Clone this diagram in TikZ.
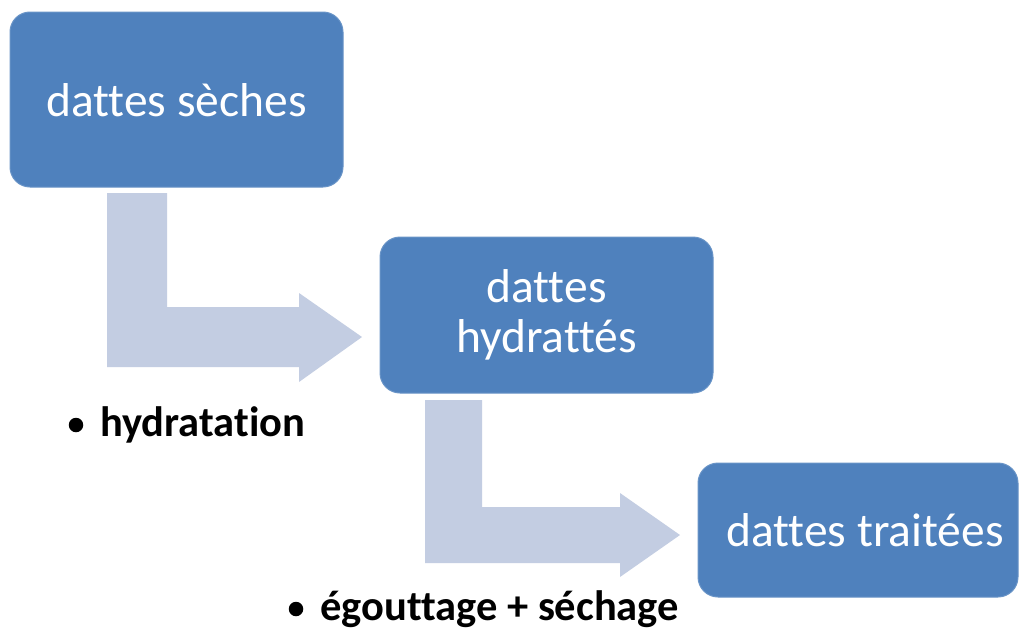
\documentclass[tikz,border=0pt]{standalone}
\usepackage{fontspec}
\setmainfont{Carlito}[Ligatures=NoCommon]
\definecolor{boxblue}{HTML}{4F81BD}
\definecolor{arrowblue}{HTML}{C3CDE2}
\begin{document}
\begin{tikzpicture}[x=1pt,y=-1pt,
  stepbox/.style={fill=boxblue,draw=boxblue!85!white,line width=1pt,rounded corners=20pt},
  boxtext/.style={text=white,align=center,inner sep=0pt,font=\fontsize{47.5}{50}\selectfont},
  bentarrow/.style={fill=arrowblue,draw=none},
  lbl/.style={anchor=west,inner sep=0pt,font=\fontsize{42.5}{48}\selectfont\bfseries},
  bul/.style={circle,fill=black,draw=none,inner sep=0pt,minimum size=14.5pt}]
\useasboundingbox (0,0) rectangle (1019,629);
\fill[white] (0,0) rectangle (1019,629);
% arrows
\fill[bentarrow] (107,193) -- (167,193) -- (167,307) -- (299,307) -- (299,293) -- (362,337) -- (299,382) -- (299,367) -- (107,367) -- cycle;
\fill[bentarrow] (425,400) -- (482,400) -- (482,507) -- (620,507) -- (620,493) -- (680,535) -- (620,577) -- (620,563) -- (425,563) -- cycle;
% boxes
\draw[stepbox] (10,12) rectangle (343,187);
\node[boxtext] (b1) at (176.5,100) {dattes sèches};
\draw[stepbox] (380,237) rectangle (713,393);
\node[boxtext] (b2) at (546.5,315) {dattes\\hydrattés};
\draw[stepbox] (698,463) rectangle (1018,597);
\node[boxtext] (b3) at (865,530) {dattes traitées};
% labels
\node[bul] (p1) at (76,425) {};
\node[lbl] (l1) at (100,425) {hydratation};
\node[bul] (p2) at (296,609) {};
\node[lbl] (l2) at (320,609) {égouttage + séchage};
\end{tikzpicture}
\end{document}
